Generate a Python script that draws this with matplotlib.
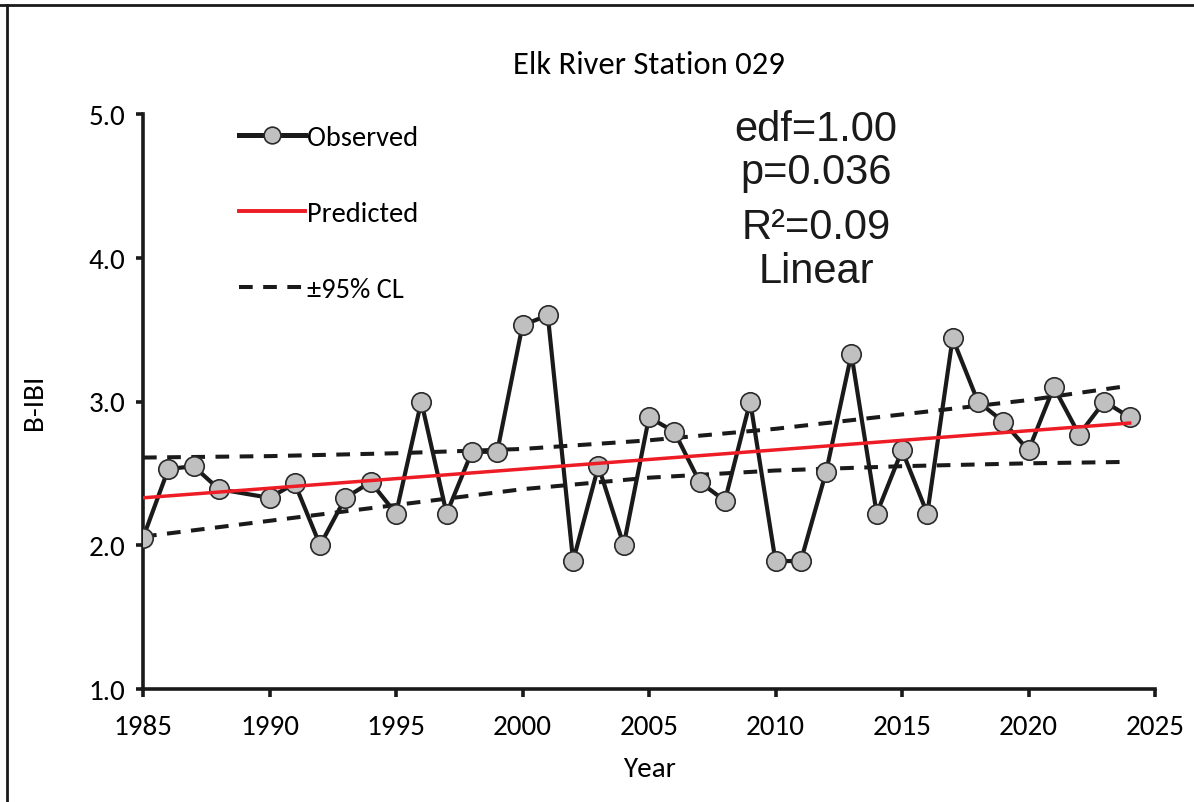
import numpy as np
import matplotlib.pyplot as plt
from matplotlib.lines import Line2D

# observed B-IBI (1989 not sampled)
years = [1985, 1986, 1987, 1988, 1990, 1991, 1992, 1993, 1994, 1995, 1996, 1997,
         1998, 1999, 2000, 2001, 2002, 2003, 2004, 2005, 2006, 2007, 2008, 2009,
         2010, 2011, 2012, 2013, 2014, 2015, 2016, 2017, 2018, 2019, 2020, 2021,
         2022, 2023, 2024]
bibi = [2.05, 2.53, 2.55, 2.39, 2.33, 2.43, 2.00, 2.33, 2.44, 2.22, 3.00, 2.22,
        2.65, 2.65, 3.53, 3.60, 1.89, 2.55, 2.00, 2.89, 2.79, 2.44, 2.31, 3.00,
        1.89, 1.89, 2.51, 3.33, 2.22, 2.66, 2.22, 3.44, 3.00, 2.86, 2.66, 3.10,
        2.77, 3.00, 2.89]

pred_years = [1985, 2024]
pred = [2.33, 2.85]

cl_years = [1985, 1990, 1995, 2000, 2005, 2010, 2015, 2020, 2024]
cl_upper = [2.61, 2.62, 2.64, 2.67, 2.73, 2.81, 2.91, 3.01, 3.11]
cl_lower = [2.06, 2.17, 2.28, 2.39, 2.47, 2.52, 2.55, 2.57, 2.58]

plt.rcParams['font.family'] = ['Carlito', 'Liberation Sans Narrow', 'DejaVu Sans']

fig = plt.figure(figsize=(11.94, 8.03), dpi=100)
ax = fig.add_axes([143/1194, 1-690/803, (1155-143)/1194, (690-115)/803])

dash = (0, (3.4, 2.6))
ax.plot(cl_years, cl_upper, color='#1a1a1a', lw=2.9, linestyle=dash, zorder=2)
ax.plot(cl_years, cl_lower, color='#1a1a1a', lw=2.9, linestyle=dash, zorder=2)
ax.plot(years, bibi, color='#1a1a1a', lw=3.0, marker='o', ms=14,
        mfc='#c0c0c0', mec='#2a2a2a', mew=1.2, zorder=3)
ax.plot(pred_years, pred, color='#ee1c25', lw=2.5, zorder=4)

ax.set_xlim(1985, 2025)
ax.set_ylim(1.0, 5.0)
ax.set_xticks(range(1985, 2026, 5))
ax.set_yticks([1, 2, 3, 4, 5])
ax.set_yticklabels(['1.0', '2.0', '3.0', '4.0', '5.0'])
for s in ['top', 'right']:
    ax.spines[s].set_visible(False)
for s in ['left', 'bottom']:
    ax.spines[s].set_linewidth(2.6)
    ax.spines[s].set_color('#1a1a1a')
ax.tick_params(axis='x', direction='out', length=6, width=2.6, labelsize=21, pad=12, color='#1a1a1a')
ax.tick_params(axis='y', direction='out', length=5, width=2.6, labelsize=21, pad=8, color='#1a1a1a')
ax.set_xlabel('Year', fontsize=21, labelpad=12)
ax.set_ylabel('B-IBI', fontsize=21, labelpad=30)
ax.text(0.5, 1 + 50/575, 'Elk River Station 029', transform=ax.transAxes,
        ha='center', va='center', fontsize=23.5)

handles = [
    Line2D([], [], color='#1a1a1a', lw=3.6, marker='o', ms=12, mfc='#c0c0c0', mec='#2a2a2a', mew=1.2),
    Line2D([], [], color='#ee1c25', lw=2.8),
    Line2D([], [], color='#1a1a1a', lw=2.9, linestyle=dash),
]
ax.legend(handles, ['Observed', 'Predicted', '\u00b195% CL'], loc='upper left',
          bbox_to_anchor=(82/1012, 1 + 3/575), frameon=False, fontsize=20.5,
          handlelength=2.3, handletextpad=0.08, labelspacing=1.78, borderpad=0)

stats_font = ['Liberation Sans', 'DejaVu Sans']
for txt, ypx in [('edf=1.00', 130), ('p=0.036', 173), ('R\u00b2=0.09', 228), ('Linear', 272)]:
    fig.text(816/1194, 1 - ypx/803, txt, ha='center', va='center', fontsize=30,
             family=stats_font, color='#1a1a1a')

# outer frame
fig.add_artist(Line2D([0, 1], [1 - 6/803, 1 - 6/803], transform=fig.transFigure, color='#1a1a1a', lw=2))
fig.add_artist(Line2D([7/1194, 7/1194], [0, 1 - 6/803], transform=fig.transFigure, color='#1a1a1a', lw=2))

fig.savefig('out.png', dpi=100)
